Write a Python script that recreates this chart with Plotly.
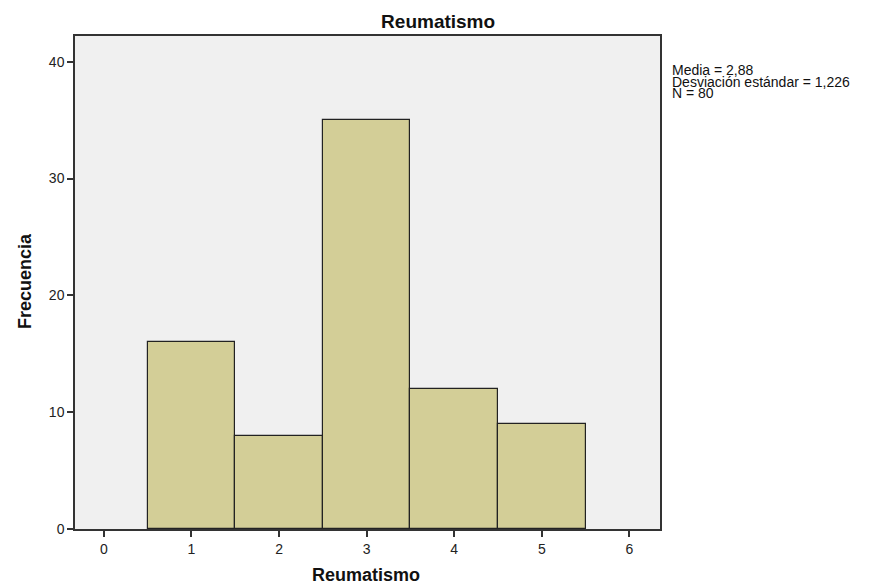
import plotly.graph_objects as go

# histogram bins (category value) and frequencies
categorias = [1, 2, 3, 4, 5]
frecuencias = [16, 8, 35, 12, 9]
x_ticks = [0, 1, 2, 3, 4, 5, 6]
y_ticks = [0, 10, 20, 30, 40]
estadisticos = ["Media = 2,88", "Desviación estándar = 1,226", "N = 80"]

FONT = 'Liberation Sans, Arial, sans-serif'

W, H = 871, 586
ML, MR, MT, MB = 75, 211, 36, 57
plot_w = W - ML - MR
plot_h = H - MT - MB


def px_x(x):
    # page pixel -> paper x
    return (x - ML) / plot_w


def px_y(y):
    # page pixel -> paper y
    return (H - MB - y) / plot_h


fig = go.Figure()

fig.add_trace(go.Bar(
    x=categorias,
    y=frecuencias,
    width=1,
    marker=dict(color='#D3CE97', line=dict(color='#222222', width=1.2)),
    showlegend=False
))

fig.update_layout(
    width=W, height=H,
    margin=dict(l=ML, r=MR, t=MT, b=MB, autoexpand=False),
    paper_bgcolor='white',
    plot_bgcolor='#F0F0F0',
    bargap=0,
    title=dict(text='<b>Reumatismo</b>', x=0.503, xanchor='center',
               y=1 - 21 / H, yanchor='middle',
               font=dict(family=FONT, size=19, color='#111111')),
    font=dict(family=FONT, size=14, color='#222222'),
)

common = dict(
    ticks='outside', ticklen=6, tickwidth=2, tickcolor='#333333',
    showline=True, linecolor='#333333', linewidth=1.5, mirror=True,
    showgrid=False, zeroline=False, automargin=False,
)
fig.update_xaxes(range=[-0.33, 6.35], tickvals=x_ticks, **common)
fig.update_yaxes(range=[0, 42.2], tickvals=y_ticks, **common)

# axis titles
fig.add_annotation(text='<b>Reumatismo</b>', xref='paper', yref='paper',
                   x=px_x(366), y=px_y(575), xanchor='center', yanchor='middle',
                   showarrow=False, font=dict(family=FONT, size=18, color='#111111'))
fig.add_annotation(text='<b>Frecuencia</b>', xref='paper', yref='paper',
                   x=px_x(25), y=px_y(281), xanchor='center', yanchor='middle',
                   textangle=-90, showarrow=False,
                   font=dict(family=FONT, size=18, color='#111111'))

# statistics text, one annotation per line for tight spacing
for i, linea in enumerate(estadisticos):
    fig.add_annotation(
        text=linea,
        xref='paper', yref='paper',
        x=px_x(670), y=px_y(70 + 11.5 * i),
        xanchor='left', yanchor='middle', align='left',
        showarrow=False,
        font=dict(family=FONT, size=14, color='#111111'),
    )

fig.write_html("out.html", config={'displayModeBar': False},
               post_script="document.body.style.margin='0';")
